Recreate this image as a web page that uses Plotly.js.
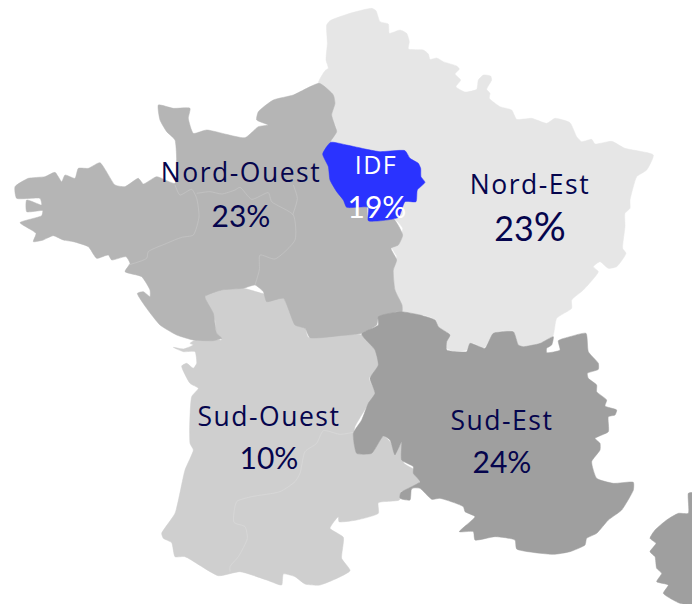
<!DOCTYPE html>
<html><head><meta charset="utf-8">
<script src="https://cdn.plot.ly/plotly-3.0.1.min.js"></script>
<style>html,body{margin:0;padding:0;background:#fff}#c{width:692px;height:604px}
#c .spaced text{letter-spacing:1.5px}</style>
</head><body><div id="c"></div>
<script>
// Outlines, as [x, y] in the units of each crop
const crops = {ne:[300,0], no:[0,70], so:[140,300], se:[350,310], idf:[310,130]};
const nordEst = [[55,250],[75,212],[85,205],[78,180],[82,130],[80,75],[90,62],[150,40],[215,25],[228,32],[240,65],[265,72],[268,100],[300,90],[320,100],[328,125],[325,147],[370,150],[385,162],[390,178],[410,174],[430,185],[470,198],[478,207],[465,222],[482,240],[468,260],[495,276],[530,268],[535,240],[550,225],[572,228],[575,240],[560,268],[570,280],[568,295],[600,320],[635,330],[650,358],[695,355],[740,370],[765,355],[810,368],[830,410],[845,425],[875,418],[885,432],[935,424],[975,445],[1060,465],[1040,510],[1010,530],[1000,560],[990,600],[990,625],[975,640],[975,680],[968,745],[978,760],[950,800],[925,805],[900,785],[880,800],[895,815],[850,870],[815,900],[815,925],[770,955],[758,1010],[715,1030],[670,1040],[650,1030],[640,992],[590,995],[575,1025],[545,1045],[520,1030],[500,1050],[470,1055],[440,1045],[440,1020],[450,1005],[410,975],[405,958],[370,945],[345,950],[305,940],[302,905],[285,870],[280,800],[290,770],[272,735],[295,725],[308,685],[280,655],[205,662],[105,500],[90,430],[110,385],[95,345],[105,305],[100,285],[55,250]];
const nordOuest = [[958,40],[1000,75],[1005,100],[995,135],[1010,185],[990,220],[1100,300],[1105,450],[1179,445],[1208,495],[1195,525],[1173,535],[1190,570],[1180,600],[1185,660],[1206,705],[1206,725],[1190,725],[1135,745],[1130,765],[1085,790],[1020,797],[930,803],[915,775],[885,765],[850,685],[800,695],[790,665],[765,645],[730,655],[665,660],[615,680],[640,730],[650,790],[665,805],[640,812],[580,810],[530,795],[480,765],[440,715],[412,670],[430,665],[450,680],[450,660],[425,620],[375,605],[390,580],[378,560],[335,570],[325,555],[290,565],[265,530],[220,515],[190,510],[160,497],[140,505],[130,510],[100,515],[108,490],[60,458],[125,437],[128,422],[80,425],[80,390],[125,405],[120,385],[50,385],[45,350],[85,325],[135,320],[165,307],[185,335],[195,315],[225,325],[235,295],[265,295],[300,278],[345,345],[375,350],[415,325],[430,342],[470,320],[525,340],[525,210],[500,185],[480,150],[475,105],[520,115],[570,115],[565,145],[580,190],[620,180],[735,203],[775,170],[805,165],[770,150],[775,125],[820,90],[880,75],[958,40]];
const sudOuest = [[665,105],[715,165],[715,205],[687,235],[705,280],[680,320],[645,380],[640,410],[648,455],[680,460],[705,440],[730,408],[750,425],[767,465],[787,420],[792,490],[825,510],[840,543],[812,570],[782,575],[778,600],[715,608],[715,640],[650,660],[597,665],[595,650],[570,685],[610,712],[605,775],[630,812],[540,855],[495,852],[465,830],[430,822],[425,855],[380,840],[300,815],[235,827],[135,770],[105,770],[95,728],[70,715],[65,700],[105,640],[135,510],[160,450],[150,430],[155,290],[175,265],[150,250],[125,198],[140,190],[160,205],[170,190],[165,155],[130,155],[100,142],[130,147],[160,135],[150,130],[180,113],[245,120],[230,100],[225,60],[195,-10],[240,-30],[310,-35],[365,-20],[430,-5],[465,60],[495,85],[505,112],[590,105],[665,105]];
const sudEst = [[35,72],[85,45],[85,20],[150,5],[210,15],[255,30],[265,50],[300,75],[290,95],[290,120],[350,125],[360,100],[405,115],[430,70],[490,65],[505,105],[520,110],[570,100],[610,80],[605,105],[590,115],[590,128],[630,120],[625,92],[660,80],[708,70],[715,125],[745,160],[745,178],[712,190],[715,205],[740,225],[740,245],[770,270],[765,288],[800,300],[795,315],[775,320],[775,365],[735,385],[750,400],[750,420],[725,455],[740,505],[790,520],[850,517],[850,540],[815,600],[775,630],[740,670],[710,685],[705,705],[660,725],[610,733],[500,717],[495,690],[435,680],[375,690],[370,665],[328,665],[375,620],[345,605],[340,590],[270,565],[245,568],[210,535],[185,535],[180,570],[150,565],[152,548],[210,515],[190,490],[190,470],[155,450],[155,395],[135,435],[120,390],[100,378],[65,430],[20,430],[10,370],[35,330],[55,280],[75,250],[60,205],[85,165],[75,120],[35,72]];
const corse = [[1026,548],[1015,550],[1015,610],[985,610],[950,630],[915,660],[900,685],[918,700],[900,725],[915,740],[920,775],[935,790],[920,815],[955,825],[940,850],[990,880],[1026,882],[1026,548]];
const idf = [[62,37],[110,45],[170,58],[210,65],[285,62],[300,85],[325,100],[332,115],[333,140],[345,157],[322,180],[318,215],[285,215],[265,262],[175,272],[175,232],[110,232],[100,210],[80,185],[60,150],[55,110],[38,72],[62,37]];
const borderNoA = [[525,345],[540,375],[575,358],[590,385],[597,440],[580,495],[545,502],[500,520],[445,545],[440,565],[385,585]];
const borderNoB = [[590,370],[630,365],[665,372],[705,360],[720,352],[755,388],[805,368],[815,395],[880,435],[885,510],[825,567],[780,555],[778,600],[765,645]];
const borderNoC = [[880,345],[892,385],[878,435]];
const borderSoA = [[640,397],[600,403],[550,392],[530,430],[495,455],[480,520],[465,545],[420,575],[335,590],[290,605],[282,667],[315,680],[322,715],[295,770],[270,800],[270,815]];

const labelNames = ['Nord-Ouest','Nord-Est','Sud-Ouest','Sud-Est'];
const labelShares = ['23%',"<span style='font-size:34px'>23</span><span style='font-size:40px'>%</span>",'10%','24%'];
const labelX = [241,530,269,502];
const nameY = [175,187,419,423];
const shareY = [219,233,461,465];
const idfLabel = ['IDF','19%'];
const idfLabelX = [376,377];
const idfLabelY = [168,210];

const ink = '#05054d', nameFont = '"Open Sans", sans-serif', shareFont = 'Lato, sans-serif';
const fromCrop = (pts, o) => ({x: pts.map(p => o[0] + p[0]/3), y: pts.map(p => o[1] + p[1]/3)});
const area = (pts, o, color, s) => Object.assign(fromCrop(pts, o), {
  type:'scatter', mode:'lines', fill:'toself', fillcolor:color,
  line:{color:color, width:0.5, shape:'spline', smoothing:s===undefined?0.5:s}, hoverinfo:'skip'});
const edge = (pts, o, color) => Object.assign(fromCrop(pts, o), {
  type:'scatter', mode:'lines', line:{color:color, width:0.5, shape:'spline', smoothing:0.6}, hoverinfo:'skip'});
const txt = (x, y, t, font, size, color) => ({type:'scatter', mode:'text', x, y, text:t,
  textposition:'middle center', textfont:{family:font, size, color}, hoverinfo:'skip'});

const traces = [
  area(nordEst, crops.ne, '#e6e6e6'),
  area(sudOuest, crops.so, '#cfcfcf'),
  area(nordOuest, crops.no, '#b5b5b5'),
  area(sudEst, crops.se, '#9f9f9f'),
  area(corse, crops.se, '#9f9f9f'),
  area(idf, crops.idf, '#2a33ff'),
  edge(borderNoA, crops.no, '#cccccc'),
  edge(borderNoB, crops.no, '#cccccc'),
  edge(borderNoC, crops.no, '#cccccc'),
  edge(borderSoA, crops.so, '#dedede'),
  txt(labelX, nameY, labelNames, nameFont, 26.5, ink),
  txt(labelX, shareY, labelShares, shareFont, 30, ink),
  txt([idfLabelX[0]], [idfLabelY[0]], [idfLabel[0]], nameFont, 25, '#ffffff'),
  txt([idfLabelX[1]], [idfLabelY[1]], [idfLabel[1]], shareFont, 30, '#ffffff')
];
const hidden = r => ({range:r, visible:false, fixedrange:true});
Plotly.newPlot('c', traces, {
  width:692, height:604, margin:{l:0,r:0,t:0,b:0}, showlegend:false,
  paper_bgcolor:'#ffffff', plot_bgcolor:'#ffffff',
  xaxis:hidden([0,692]), yaxis:hidden([604,0])
}, {displayModeBar:false, staticPlot:true}).then(gd => {
  // names set in the wide, open spacing of the reference
  const groups = gd.querySelectorAll('.scatterlayer .trace');
  [10,12].forEach(i => groups[i] && groups[i].classList.add('spaced'));
});
</script></body></html>
